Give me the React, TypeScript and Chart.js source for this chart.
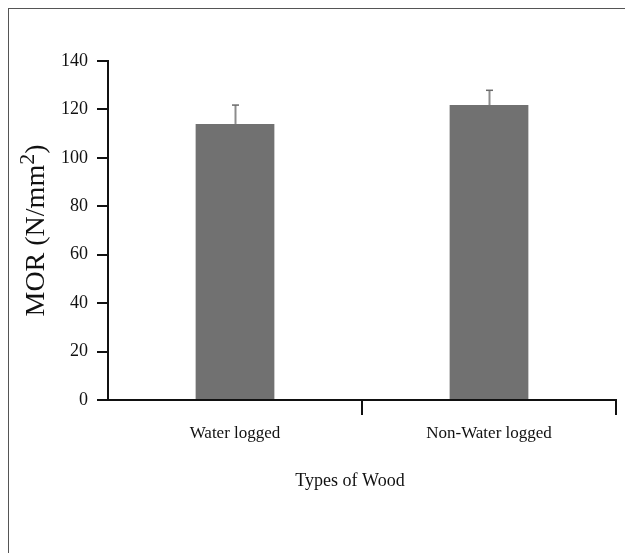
import React, { useEffect, useRef } from "react";
import { Chart, registerables } from "chart.js";

Chart.register(...registerables);

const categories = ["Water logged", "Non-Water logged"];
const morValues = [114, 121.8];
const morErrors = [7.8, 6.1];
const yMin = 0;
const yMax = 140;
const yStep = 20;
const xTitle = "Types of Wood";
const yTitleMain = "MOR (N/mm";
const yTitleSup = "2";
const yTitleEnd = ")";

const FONT = "'Liberation Serif', 'Times New Roman', serif";
const INK = "#111111";

const errorBarPlugin = {
  id: "errorBars",
  afterDatasetsDraw(chart: any) {
    const ctx = chart.ctx;
    const meta = chart.getDatasetMeta(0);
    const y = chart.scales.y;
    ctx.save();
    meta.data.forEach((bar: any, i: number) => {
      const x = Math.round(bar.x) + 0.5;
      const yTop = y.getPixelForValue(morValues[i] + morErrors[i]);
      const yBase = y.getPixelForValue(morValues[i]);
      ctx.strokeStyle = "#8c8c8c";
      ctx.lineWidth = 2;
      ctx.beginPath();
      ctx.moveTo(x, yBase);
      ctx.lineTo(x, yTop);
      ctx.stroke();
      ctx.strokeStyle = "#6a6a6a";
      ctx.lineWidth = 1.5;
      ctx.beginPath();
      ctx.moveTo(x - 3.5, yTop);
      ctx.lineTo(x + 3.5, yTop);
      ctx.stroke();
    });
    ctx.restore();
  },
};

const titlesPlugin = {
  id: "titles",
  afterDraw(chart: any) {
    const ctx = chart.ctx;
    const area = chart.chartArea;
    ctx.save();
    ctx.fillStyle = INK;
    // Y title, rotated, with superscript
    const mainSize = 28;
    const supSize = 22;
    ctx.translate(25, (area.top + area.bottom) / 2);
    ctx.rotate(-Math.PI / 2);
    ctx.textBaseline = "alphabetic";
    ctx.textAlign = "left";
    ctx.font = `${mainSize}px ${FONT}`;
    const w1 = ctx.measureText(yTitleMain).width;
    const w3 = ctx.measureText(yTitleEnd).width;
    ctx.font = `${supSize}px ${FONT}`;
    const w2 = ctx.measureText(yTitleSup).width;
    const total = w1 + w2 + w3;
    let xx = -total / 2;
    const base = 10;
    ctx.font = `${mainSize}px ${FONT}`;
    ctx.fillText(yTitleMain, xx, base);
    xx += w1;
    ctx.font = `${supSize}px ${FONT}`;
    ctx.fillText(yTitleSup, xx, base - 10);
    xx += w2;
    ctx.font = `${mainSize}px ${FONT}`;
    ctx.fillText(yTitleEnd, xx, base);
    ctx.restore();

    // X title
    ctx.save();
    ctx.fillStyle = INK;
    ctx.font = `18px ${FONT}`;
    ctx.textAlign = "center";
    ctx.textBaseline = "middle";
    ctx.fillText(xTitle, (area.left + area.right) / 2 - 12, area.bottom + 81);
    ctx.restore();
  },
};

export default function App() {
  const canvasRef = useRef<HTMLCanvasElement | null>(null);

  useEffect(() => {
    if (!canvasRef.current) return;
    const chart = new Chart(canvasRef.current, {
      type: "bar",
      data: {
        labels: categories,
        datasets: [
          {
            data: morValues,
            backgroundColor: "#717171",
            borderWidth: 0,
            barPercentage: 0.31,
            categoryPercentage: 1,
          },
        ],
      },
      options: {
        responsive: false,
        animation: false,
        devicePixelRatio: 1,
        layout: { padding: { left: 0, top: 52, right: 17, bottom: 93 } },
        plugins: {
          legend: { display: false },
          tooltip: { enabled: false },
          title: { display: false },
        },
        scales: {
          x: {
            type: "category",
            offset: true,
            afterFit: (s: any) => {
              s.height = 60;
            },
            grid: {
              display: true,
              offset: true,
              drawOnChartArea: false,
              drawTicks: true,
              tickLength: 15,
              lineWidth: 2,
              color: (c: any) => (c.index === 0 ? "rgba(0,0,0,0)" : INK),
            },
            border: { display: true, color: INK, width: 2 },
            ticks: {
              color: INK,
              font: { family: FONT, size: 17 },
              padding: 8,
              maxRotation: 0,
            },
          },
          y: {
            min: yMin,
            max: yMax,
            afterFit: (s: any) => {
              s.width = 99;
            },
            grid: {
              display: true,
              drawOnChartArea: false,
              drawTicks: true,
              tickLength: 11,
              lineWidth: 2,
              color: INK,
            },
            border: { display: true, color: INK, width: 2 },
            ticks: {
              stepSize: yStep,
              color: INK,
              font: { family: FONT, size: 18 },
              padding: 9,
            },
          },
        },
      },
      plugins: [errorBarPlugin, titlesPlugin],
    });
    return () => chart.destroy();
  }, []);

  return (
    <div
      style={{
        width: 624,
        height: 544,
        borderLeft: "1px solid #555",
        borderTop: "1px solid #555",
        background: "#fff",
        overflow: "hidden",
      }}
    >
      <canvas ref={canvasRef} width={624} height={544} style={{ display: "block" }} />
    </div>
  );
}
